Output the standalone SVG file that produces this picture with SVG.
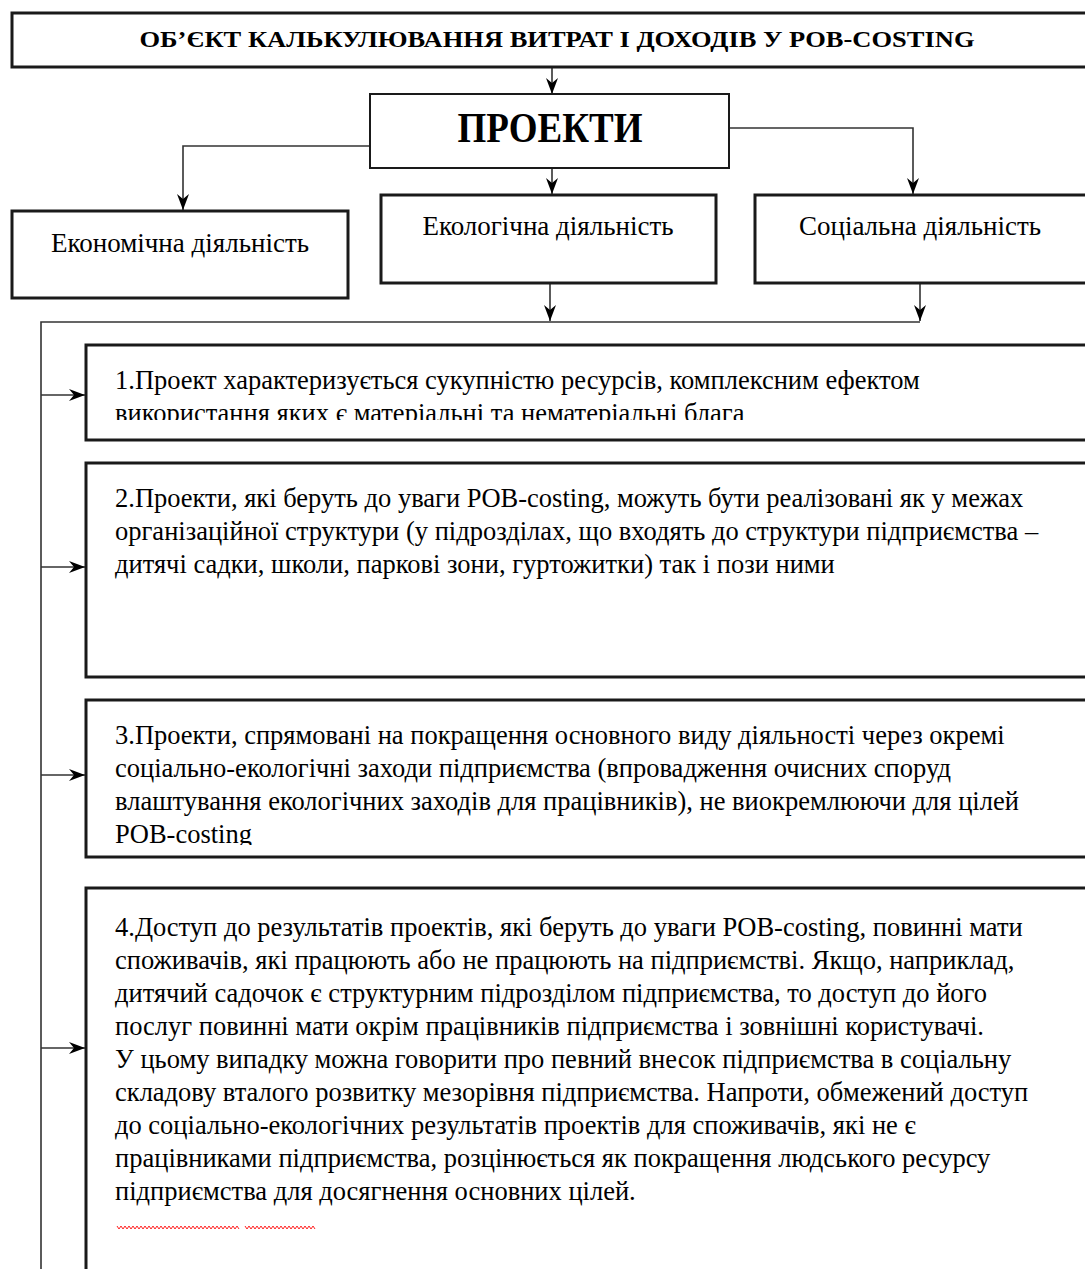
<svg xmlns="http://www.w3.org/2000/svg" width="1085" height="1269" viewBox="0 0 1085 1269">
<style>
.box{fill:#fff;stroke:#1a1a1a;stroke-width:3}
.sbox{fill:#fff;stroke:#1a1a1a;stroke-width:2}
.body{font-family:"Liberation Serif","Times New Roman",serif;font-size:26.5px;fill:#000}
.act{font-family:"Liberation Serif","Times New Roman",serif;font-size:27px;fill:#000;text-anchor:middle}
.conn{fill:none;stroke:#333;stroke-width:1.6}
</style>
<defs>
<marker id="ahb" viewBox="0 0 16 12" refX="16" refY="6" markerWidth="16" markerHeight="12" markerUnits="userSpaceOnUse" orient="auto">
<path d="M0,0 L16,6 L0,12 L5,6 z" fill="#000"/>
</marker>
<clipPath id="c1"><rect x="86" y="345" width="1000" height="75"/></clipPath>
<clipPath id="c3"><rect x="86" y="700" width="1000" height="145"/></clipPath>
</defs>

<g id="connectors">
<path class="conn" d="M552,68 V94" marker-end="url(#ahb)"/>
<path class="conn" d="M370,146 H183 V210" marker-end="url(#ahb)"/>
<path class="conn" d="M552,168 V194" marker-end="url(#ahb)"/>
<path class="conn" d="M729,128 H913 V194" marker-end="url(#ahb)"/>
<path class="conn" d="M550,284 V321" marker-end="url(#ahb)"/>
<path class="conn" d="M920,284 V321" marker-end="url(#ahb)"/>
<path class="conn" d="M920,322 H41 V1269"/>
<path class="conn" d="M41,395 H85" marker-end="url(#ahb)"/>
<path class="conn" d="M41,567 H85" marker-end="url(#ahb)"/>
<path class="conn" d="M41,775 H85" marker-end="url(#ahb)"/>
<path class="conn" d="M41,1048 H85" marker-end="url(#ahb)"/>
</g>

<g id="title">
<rect class="box" x="12" y="13" width="1090" height="54"/>
<text x="557" y="47" text-anchor="middle" font-family="Liberation Serif, serif" font-weight="bold" font-size="23" textLength="835" lengthAdjust="spacingAndGlyphs">ОБ’ЄКТ КАЛЬКУЛЮВАННЯ ВИТРАТ І ДОХОДІВ У POB-COSTING</text>
</g>

<g id="projects">
<rect class="sbox" x="370" y="94" width="359" height="74"/>
<text x="550" y="142" text-anchor="middle" font-family="Liberation Serif, serif" font-weight="bold" font-size="42" textLength="185" lengthAdjust="spacingAndGlyphs">ПРОЕКТИ</text>
</g>

<g id="economic">
<rect class="box" x="12" y="211" width="336" height="87"/>
<text class="act" x="180" y="252">Економічна діяльність</text>
</g>

<g id="ecological">
<rect class="box" x="381" y="195" width="335" height="88"/>
<text class="act" x="548" y="235">Екологічна діяльність</text>
</g>

<g id="social">
<rect class="box" x="755" y="195" width="340" height="88"/>
<text class="act" x="920" y="235">Соціальна діяльність</text>
</g>

<g id="item1">
<rect class="box" x="86" y="345" width="1010" height="95"/>
<g clip-path="url(#c1)">
<text class="body" x="115" y="389">1.Проект характеризується сукупністю ресурсів, комплексним ефектом</text>
<text class="body" x="115" y="422">використання яких є матеріальні та нематеріальні блага</text>
</g>
</g>

<g id="item2">
<rect class="box" x="86" y="463" width="1010" height="214"/>
<text class="body" x="115" y="507">2.Проекти, які беруть до уваги POB-costing, можуть бути реалізовані як у межах</text>
<text class="body" x="115" y="540">організаційної структури (у підрозділах, що входять до структури підприємства –</text>
<text class="body" x="115" y="573">дитячі садки, школи, паркові зони, гуртожитки) так і пози ними</text>
</g>

<g id="item3">
<rect class="box" x="86" y="700" width="1010" height="157"/>
<g clip-path="url(#c3)">
<text class="body" x="115" y="744">3.Проекти, спрямовані на покращення основного виду діяльності через окремі</text>
<text class="body" x="115" y="777">соціально-екологічні заходи підприємства (впровадження очисних споруд</text>
<text class="body" x="115" y="810">влаштування екологічних заходів для працівників), не виокремлюючи для цілей</text>
<text class="body" x="115" y="843">POB-costing</text>
</g>
</g>

<g id="item4">
<rect class="box" x="86" y="888" width="1010" height="400"/>
<text class="body" x="115" y="936">4.Доступ до результатів проектів, які беруть до уваги POB-costing, повинні мати</text>
<text class="body" x="115" y="969">споживачів, які працюють або не працюють на підприємстві. Якщо, наприклад,</text>
<text class="body" x="115" y="1002">дитячий садочок є структурним підрозділом підприємства, то доступ до його</text>
<text class="body" x="115" y="1035">послуг повинні мати окрім працівників підприємства і зовнішні користувачі.</text>
<text class="body" x="115" y="1068">У цьому випадку можна говорити про певний внесок підприємства в соціальну</text>
<text class="body" x="115" y="1101">складову вталого розвитку мезорівня підприємства. Напроти, обмежений доступ</text>
<text class="body" x="115" y="1134">до соціально-екологічних результатів проектів для споживачів, які не є</text>
<text class="body" x="115" y="1167">працівниками підприємства, розцінюється як покращення людського ресурсу</text>
<text class="body" x="115" y="1200">підприємства для досягнення основних цілей.</text>
<path d="M117,1226 l2,3 l2,-3 l2,3 l2,-3 l2,3 l2,-3 l2,3 l2,-3 l2,3 l2,-3 l2,3 l2,-3 l2,3 l2,-3 l2,3 l2,-3 l2,3 l2,-3 l2,3 l2,-3 l2,3 l2,-3 l2,3 l2,-3 l2,3 l2,-3 l2,3 l2,-3 l2,3 l2,-3 l2,3 l2,-3 l2,3 l2,-3 l2,3 l2,-3 l2,3 l2,-3 l2,3 l2,-3 l2,3 l2,-3 l2,3 l2,-3 l2,3 l2,-3 l2,3 l2,-3 l2,3 l2,-3 l2,3 l2,-3 l2,3 l2,-3 l2,3 l2,-3 l2,3 l2,-3 l2,3 l2,-3 l2,3 M245,1226 l2,3 l2,-3 l2,3 l2,-3 l2,3 l2,-3 l2,3 l2,-3 l2,3 l2,-3 l2,3 l2,-3 l2,3 l2,-3 l2,3 l2,-3 l2,3 l2,-3 l2,3 l2,-3 l2,3 l2,-3 l2,3 l2,-3 l2,3 l2,-3 l2,3 l2,-3 l2,3 l2,-3 l2,3 l2,-3 l2,3 l2,-3 l2,3" fill="none" stroke="#f22" stroke-width="1"/>
</g>
</svg>
